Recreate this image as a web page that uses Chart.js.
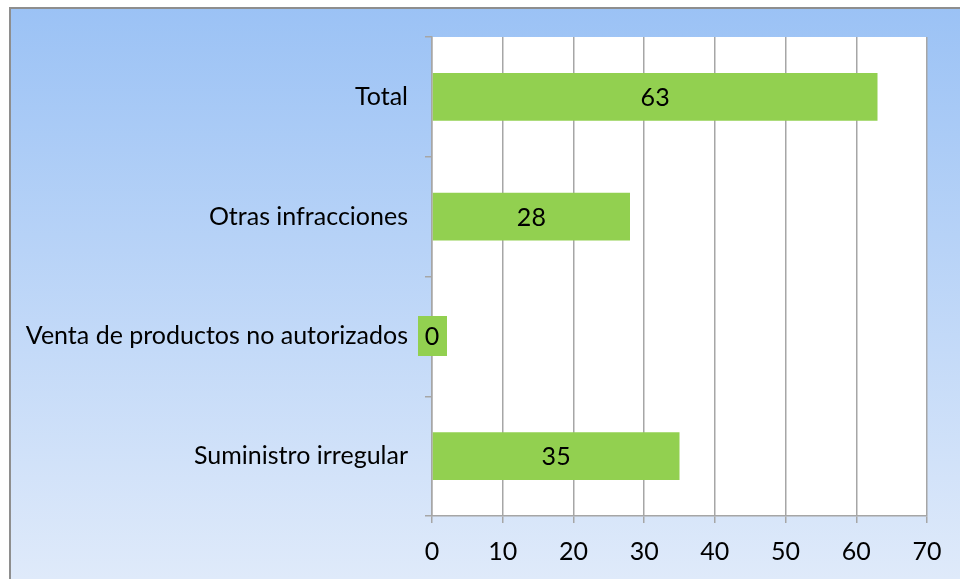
<!DOCTYPE html>
<html>
<head>
<meta charset="utf-8">
<script src="https://cdn.jsdelivr.net/npm/chart.js@4/dist/chart.umd.min.js"></script>
<style>
  html, body { margin: 0; padding: 0; background: #ffffff; }
  #wrap { width: 960px; height: 579px; position: relative; }
</style>
</head>
<body>
<div id="wrap"><canvas id="chart"></canvas></div>
<script>
// categories and values
const categories = [
  "Total",
  "Otras infracciones",
  "Venta de productos no autorizados",
  "Suministro irregular",
];
const values = [63, 28, 0, 35];
const xTicks = [0, 10, 20, 30, 40, 50, 60, 70];

const barColor = "#92D050";
const gridColor = "#a6a6a6";
const fontFamily = "Lato, 'Open Sans', sans-serif";
const fontSize = 25;

// outer frame with blue gradient
const backgroundPlugin = {
  id: "frameBg",
  beforeDraw(chart) {
    const c = chart.ctx;
    const w = chart.width;
    const h = chart.height;
    c.save();
    c.fillStyle = "#ffffff";
    c.fillRect(0, 0, w, h);
    const g = c.createLinearGradient(0, 7, 0, h);
    g.addColorStop(0, "#9bc2f5");
    g.addColorStop(1, "#dfeafa");
    c.fillStyle = g;
    c.fillRect(9, 7, w - 9, h - 7);
    c.strokeStyle = "#8e8e8e";
    c.lineWidth = 2;
    c.beginPath();
    c.moveTo(10, h);
    c.lineTo(10, 8);
    c.lineTo(w, 8);
    c.stroke();
    // white plot area
    const a = chart.chartArea;
    c.fillStyle = "#ffffff";
    c.fillRect(a.left, a.top, a.right - a.left, a.bottom - a.top);
    c.restore();
  },
};

// value labels in the middle of each bar (green box behind, like Excel)
const labelPlugin = {
  id: "valueLabels",
  afterDatasetsDraw(chart) {
    const c = chart.ctx;
    const meta = chart.getDatasetMeta(0);
    c.save();
    c.font = fontSize + "px " + fontFamily;
    c.textAlign = "center";
    c.textBaseline = "middle";
    meta.data.forEach((bar, i) => {
      const text = String(values[i]);
      const cx = (bar.x + bar.base) / 2;
      const cy = bar.y;
      const tw = c.measureText(text).width;
      c.fillStyle = barColor;
      c.fillRect(Math.round(cx - tw / 2 - 7), Math.round(cy - 20), Math.round(tw + 14), 40);
      c.fillStyle = "#000000";
      c.fillText(text, cx, cy + 1);
    });
    c.restore();
  },
};

const ctx = document.getElementById("chart").getContext("2d");

new Chart(ctx, {
  type: "bar",
  data: {
    labels: categories,
    datasets: [
      {
        data: values,
        backgroundColor: barColor,
        borderWidth: 0,
        barPercentage: 0.4,
        categoryPercentage: 1,
      },
    ],
  },
  options: {
    indexAxis: "y",
    responsive: true,
    maintainAspectRatio: false,
    animation: false,
    layout: {
      padding: { left: 0, top: 37, right: 33, bottom: 0 },
    },
    plugins: {
      legend: { display: false },
      tooltip: { enabled: false },
    },
    scales: {
      x: {
        min: 0,
        max: 70,
        afterBuildTicks(scale) {
          scale.ticks = xTicks.map((v) => ({ value: v }));
        },
        afterFit(scale) {
          scale.height = 63;
        },
        grid: {
          color: gridColor,
          lineWidth: 1.5,
          drawTicks: true,
          tickLength: 7,
        },
        border: { color: gridColor, width: 1.5 },
        ticks: {
          color: "#000000",
          padding: 14,
          font: { family: fontFamily, size: fontSize },
        },
      },
      y: {
        afterFit(scale) {
          scale.width = 432;
        },
        grid: {
          offset: true,
          drawOnChartArea: false,
          drawTicks: true,
          tickLength: 7,
          color: gridColor,
          lineWidth: 1.5,
        },
        border: { color: gridColor, width: 1.5 },
        ticks: {
          color: "#000000",
          padding: 17,
          font: { family: fontFamily, size: fontSize },
        },
      },
    },
  },
  plugins: [backgroundPlugin, labelPlugin],
});
</script>
</body>
</html>
